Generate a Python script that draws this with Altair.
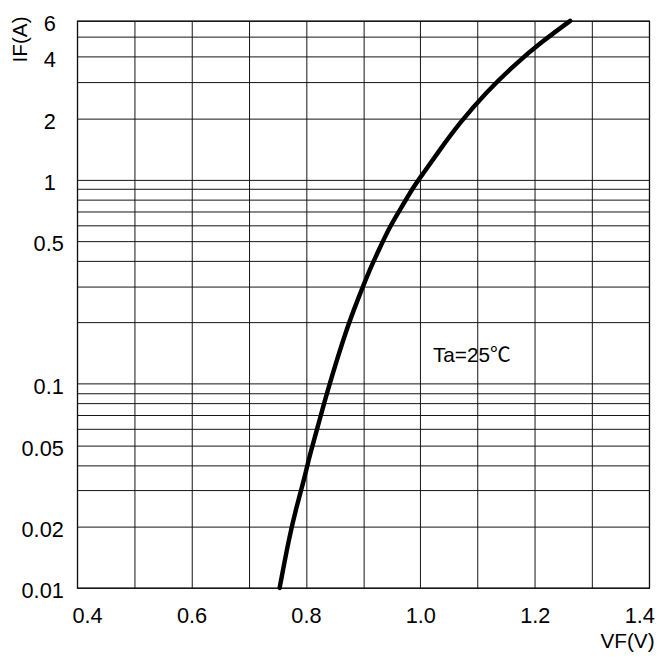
import altair as alt
import pandas as pd

# Forward characteristic (Ta = 25 C)
vf_v = [0.754, 0.770, 0.783, 0.797, 0.806, 0.816, 0.830, 0.843,
        0.870, 0.890, 0.910, 0.928, 0.945, 0.962, 0.989, 1.006,
        1.031, 1.068, 1.115, 1.166, 1.212, 1.262]
if_a = [0.0100, 0.0173, 0.0247, 0.0341, 0.0440, 0.0552, 0.0771, 0.1038,
        0.182, 0.256, 0.355, 0.456, 0.576, 0.693, 0.933, 1.082,
        1.362, 1.888, 2.680, 3.686, 4.730, 6.0]

x_grid = [0.4, 0.5, 0.6, 0.7, 0.8, 0.9, 1.0, 1.1, 1.2, 1.3, 1.4]
y_grid = [0.01, 0.02, 0.03, 0.04, 0.05, 0.06, 0.07, 0.08, 0.09,
          0.1, 0.2, 0.3, 0.4, 0.5, 0.6, 0.7, 0.8, 0.9,
          1, 2, 3, 4, 5, 6]
y_labels = [0.01, 0.02, 0.05, 0.1, 0.5, 1, 2, 4, 6]

annot_text = ["Ta=25℃"]
annot_x = [1.022]
annot_y = [0.137]

curve = pd.DataFrame({"VF": vf_v, "IF": if_a})
annot = pd.DataFrame({"t": annot_text, "VF": annot_x, "IF": annot_y})

FONT = "Liberation Sans"

x_scale = alt.Scale(domain=[0.4, 1.4], nice=False, zero=False)
y_scale = alt.Scale(type="log", domain=[0.01, 6], nice=False)

x_axis = alt.Axis(
    values=x_grid,
    format=".1f",
    labelExpr="round(datum.value*10) % 2 == 0 ? datum.label : ''",
    title="VF(V)",
    titleX=584, titleY=54, titleAlign="right", titleBaseline="middle",
    titleAnchor="end",
    labelPadding=18,
    labelFlush=False,
    labelOffset={"condition": [{"test": "datum.value < 0.45", "value": 10},
                               {"test": "datum.value > 1.35", "value": -10}],
                 "value": 0},
    ticks=False, tickSize=0, domain=False,
)

y_axis = alt.Axis(
    values=y_grid,
    format="~g",
    labelExpr="indexof(%s, datum.value) >= 0 ? datum.label : ''" % str(y_labels),
    title="IF(A)",
    titleX=-57, titleY=-5, titleAngle=-90, titleAlign="right",
    titleBaseline="middle", titleAnchor="end",
    labelPadding={"condition": {"test": "datum.value >= 1", "value": 22}, "value": 14},
    labelOffset=3,
    labelFlush=False,
    ticks=False, tickSize=0, domain=False,
)

line = alt.Chart(curve).mark_line(
    color="black", strokeWidth=4.5, strokeCap="round", interpolate="basis"
).encode(
    x=alt.X("VF:Q", scale=x_scale, axis=x_axis),
    y=alt.Y("IF:Q", scale=y_scale, axis=y_axis),
    order="IF:Q",
)

label = alt.Chart(annot).mark_text(
    align="left", baseline="middle", fontSize=21,
    font="Liberation Sans, Noto Sans CJK SC", color="black"
).encode(
    x=alt.X("VF:Q", scale=x_scale),
    y=alt.Y("IF:Q", scale=y_scale),
    text="t:N",
)

chart = alt.layer(line, label).properties(
    width=579, height=574,
    autosize=alt.AutoSizeParams(type="none"),
    padding={"left": 70, "top": 9, "right": 11, "bottom": 68},
    background="white",
).configure_view(
    stroke="black", strokeWidth=1.2
).configure_axis(
    grid=True, gridColor="#111", gridWidth=1, gridOpacity=1,
    labelFont=FONT, labelFontSize=22, labelColor="black",
    titleFont=FONT, titleFontSize=21, titleFontWeight="normal", titleColor="black",
)

chart.save("out.html", embed_options={"renderer": "svg", "actions": False})
